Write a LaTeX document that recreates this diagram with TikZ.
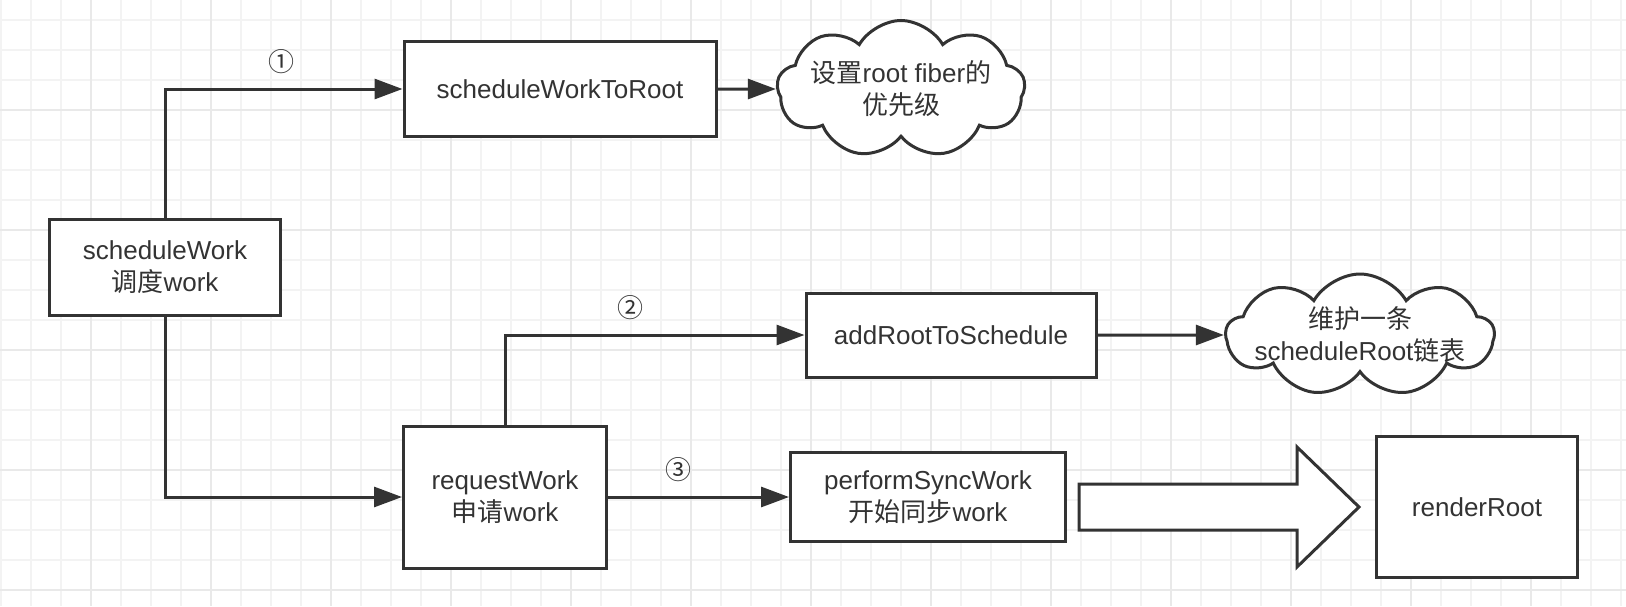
\documentclass[tikz,border=0pt]{standalone}
\usepackage{fontspec}
\setmainfont{Liberation Sans}
\newfontfamily\cjk{Noto Sans CJK SC}
\usetikzlibrary{arrows.meta,
                shapes.symbols,
                calc}
\definecolor{ink}{HTML}{333333}
\definecolor{gridminor}{HTML}{F3F3F3}
\definecolor{gridmajor}{HTML}{E9E9E9}

\begin{document}
\begin{tikzpicture}[x=1pt, y=-1pt,
    box/.style={draw=ink, line width=3pt, fill=white, text=ink, align=center,
                font=\fontsize{26}{32}\selectfont, inner sep=0pt},
    puff/.style={cloud, cloud puffs=9, cloud puff arc=120, cloud ignores aspect,
                 draw=ink, line width=3pt, fill=white, inner sep=0pt},
    pufftext/.style={text=ink, align=center, font=\fontsize{26}{32}\selectfont},
    flow/.style={draw=ink, line width=3pt, -{Triangle[length=28pt, width=20pt]}},
    bigarrow/.style={draw=ink, line width=3pt, fill=white, line join=miter},
    num/.style={text=ink, font=\cjk\fontsize{26}{32}\selectfont}]

    \useasboundingbox (0, 0) rectangle (1626, 606);
    \fill[white] (0, 0) rectangle (1626, 606);

    % background grid
    \foreach \gx in {1, 31, ..., 1621}
      \draw[gridminor, line width=2pt] (\gx, 0) -- (\gx, 606);
    \foreach \gy in {20, 50, ..., 590}
      \draw[gridminor, line width=2pt] (0, \gy) -- (1626, \gy);
    \foreach \gx in {91, 211, ..., 1591}
      \draw[gridmajor, line width=2pt] (\gx, 0) -- (\gx, 606);
    \foreach \gy in {110, 230, ..., 590}
      \draw[gridmajor, line width=2pt] (0, \gy) -- (1626, \gy);

    \node[box, minimum width=231pt, minimum height=96pt] (work) at (165, 267)
      {scheduleWork\\{\cjk 调度}work};
    \node[box, minimum width=312pt, minimum height=95pt] (toRoot) at (560, 89)
      {scheduleWorkToRoot};
    \node[puff, minimum width=248pt, minimum height=137pt] (prio) at (901, 89) {};
    \node[pufftext] (prioText) at (prio) {{\cjk 设置}root fiber{\cjk 的}\\{\cjk 优先级}};
    \node[box, minimum width=203pt, minimum height=142pt] (request) at (505, 497)
      {requestWork\\{\cjk 申请}work};
    \node[box, minimum width=290pt, minimum height=84pt] (addRoot) at (951, 335)
      {addRootToSchedule};
    \node[puff, minimum width=268pt, minimum height=122pt] (list) at (1360, 335) {};
    \node[pufftext] (listText) at (list) {{\cjk 维护一条}\\scheduleRoot{\cjk 链表}};
    \node[box, minimum width=275pt, minimum height=89pt] (sync) at (928, 497)
      {performSyncWork\\{\cjk 开始同步}work};
    \node[box, minimum width=201pt, minimum height=141pt] (render) at (1477, 507)
      {renderRoot};

    \draw[flow] (work.north) |- (toRoot.west)
      node[num, pos=0.745, above=10pt] (n1) {①};
    \draw[flow] (toRoot.east) -- (prio.west);
    \draw[flow] (work.south) |- (request.west);
    \draw[flow] (request.north) |- (addRoot.west)
      node[num, pos=0.71, above=10pt] (n2) {②};
    \draw[flow] (addRoot.east) -- (list.west);
    \draw[flow] (request.east) -- (request.east -| sync.west)
      node[num, pos=0.39, above=10pt] (n3) {③};

    % hollow arrow to renderRoot
    \coordinate (tail) at ($(sync.east |- render.west)+(12, 0)$);
    \draw[bigarrow] (tail) ++(0, -23) -- ++(218, 0) -- ++(0, -37) -- ++(62, 60)
      -- ++(-62, 60) -- ++(0, -37) -- ++(-218, 0) -- cycle;
  \end{tikzpicture}
\end{document}
